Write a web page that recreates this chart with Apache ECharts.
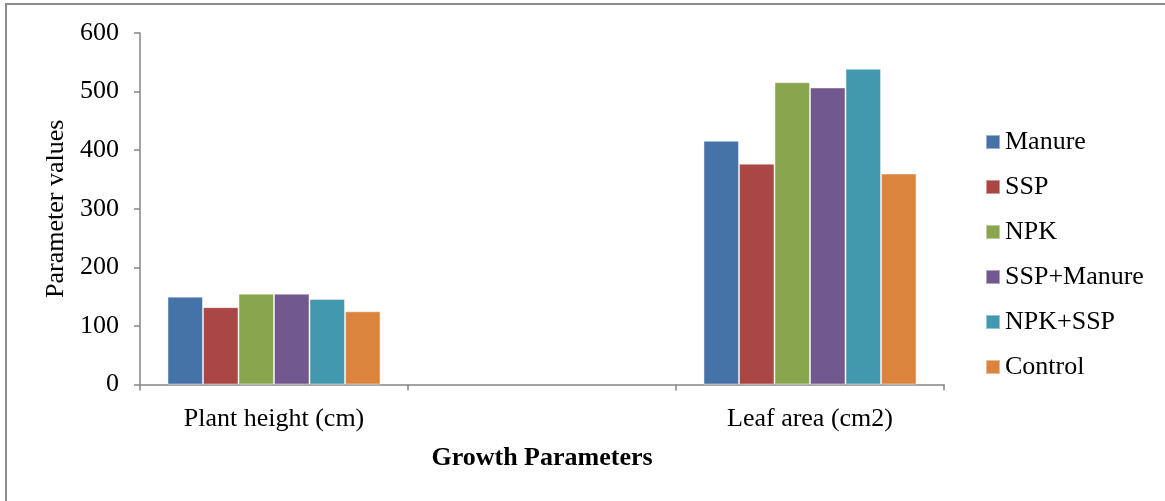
<!DOCTYPE html>
<html>
<head>
<meta charset="utf-8">
<script src="https://cdn.jsdelivr.net/npm/echarts@6/dist/echarts.min.js"></script>
<style>
  html, body { margin: 0; padding: 0; background: #fff; }
  #chart { width: 1165px; height: 501px; }
</style>
</head>
<body>
<div id="chart"></div>
<script>
// Growth parameters by fertiliser treatment
const categories = ['Plant height (cm)', '', 'Leaf area (cm2)'];
const treatments = ['Manure', 'SSP', 'NPK', 'SSP+Manure', 'NPK+SSP', 'Control'];
const manure     = [150, null, 416];
const ssp        = [132, null, 377];
const npk        = [155, null, 516];
const sspManure  = [155, null, 507];
const npkSsp     = [146, null, 539];
const control    = [125, null, 360];
const yTicks = { min: 0, max: 600, interval: 100 };

const colors = ['#4572a7', '#aa4643', '#89a54e', '#71588f', '#4198af', '#db843d'];
const seriesValues = [manure, ssp, npk, sspManure, npkSsp, control];

const font = '"Liberation Serif", "Times New Roman", serif';
const fontSize = 26;
const axisGray = '#868686';

const chart = echarts.init(document.getElementById('chart'), null, { renderer: 'canvas' });

chart.setOption({
  backgroundColor: '#ffffff',
  animation: false,
  color: colors,
  textStyle: { fontFamily: font, color: '#000' },
  graphic: [{
    type: 'rect',
    shape: { x: 6, y: 4, width: 1300, height: 700 },
    style: { fill: 'none', stroke: '#8c8c8c', lineWidth: 2 },
    silent: true
  }],
  grid: { left: 140, right: 221, top: 33, bottom: 116.5, containLabel: false },
  legend: {
    orient: 'vertical',
    left: 985,
    top: 129,
    padding: 0,
    itemWidth: 14,
    itemHeight: 14,
    itemGap: 19,
    icon: 'rect',
    data: treatments,
    textStyle: { fontFamily: font, fontSize: fontSize, lineHeight: 26, color: '#000' }
  },
  xAxis: {
    type: 'category',
    data: categories,
    boundaryGap: true,
    name: 'Growth Parameters',
    nameLocation: 'middle',
    nameGap: 61,
    nameTextStyle: { fontFamily: font, fontSize: fontSize, fontWeight: 'bold', color: '#000' },
    axisLine: { lineStyle: { color: axisGray, width: 1.5 } },
    axisTick: { show: true, length: 6, lineStyle: { color: axisGray, width: 1.5 } },
    axisLabel: { fontFamily: font, fontSize: fontSize, color: '#000', margin: 22, interval: 0 }
  },
  yAxis: {
    type: 'value',
    min: yTicks.min,
    max: yTicks.max,
    interval: yTicks.interval,
    name: 'Parameter values',
    nameLocation: 'middle',
    nameGap: 71,
    nameTextStyle: { fontFamily: font, fontSize: fontSize, color: '#000' },
    axisLine: { show: true, lineStyle: { color: axisGray, width: 1.5 } },
    axisTick: { show: true, length: 6, lineStyle: { color: axisGray, width: 1.5 } },
    splitLine: { show: false },
    axisLabel: { fontFamily: font, fontSize: fontSize, color: '#000', margin: 21 }
  },
  series: treatments.map((name, i) => ({
    name: name,
    type: 'bar',
    data: seriesValues[i],
    barGap: '0%',
    barCategoryGap: '20.5%',
    itemStyle: { color: colors[i], borderColor: 'rgba(255,255,255,0.45)', borderWidth: 1 }
  }))
});
</script>
</body>
</html>
